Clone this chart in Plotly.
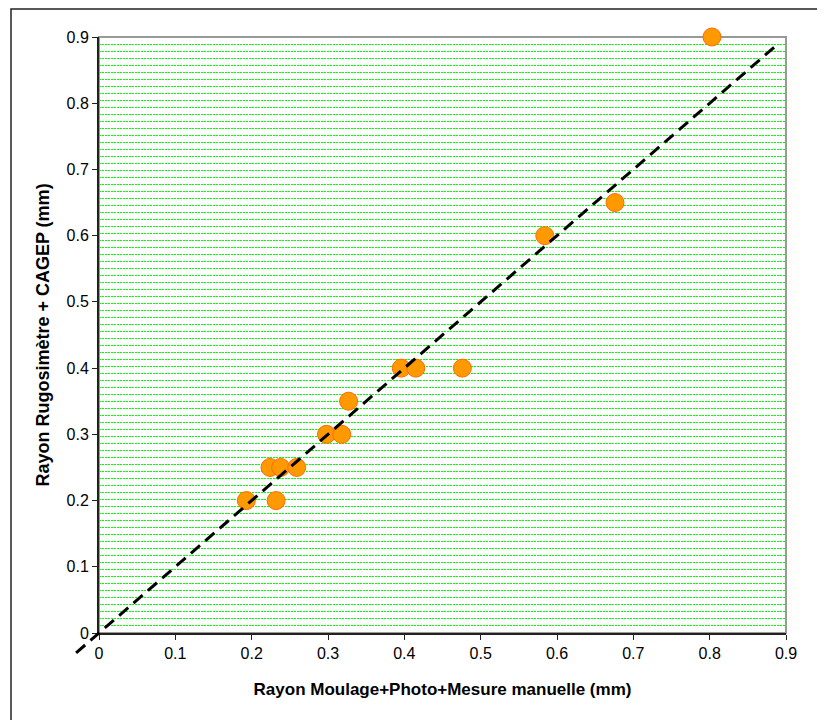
import plotly.graph_objects as go

# Data
x_moulage = [0.193, 0.232, 0.224, 0.238, 0.259, 0.298, 0.318, 0.327,
             0.396, 0.415, 0.476, 0.584, 0.676, 0.803]
y_rugosi = [0.20, 0.20, 0.25, 0.25, 0.25, 0.30, 0.30, 0.35,
            0.40, 0.40, 0.40, 0.60, 0.65, 0.90]
line_x = [-0.03, 0.89]
line_y = [-0.03, 0.89]
tick_vals = [0, 0.1, 0.2, 0.3, 0.4, 0.5, 0.6, 0.7, 0.8, 0.9]
tick_text = ["0", "0.1", "0.2", "0.3", "0.4", "0.5", "0.6", "0.7", "0.8", "0.9"]

W, H = 825, 720
ml, mt = 67, 29
pw, ph = 711, 621
mr = W - ml - pw
mb = H - mt - ph
pad_x = 24                # px left of main plot (for trend line overhang)
pad_y = 25                # px below main plot
xdom0 = pad_x / pw
ydom0 = pad_y / ph
xmax, ymax = 0.9, 0.9
x2min = -pad_x * xmax / (pw - pad_x)
y2min = -pad_y * ymax / (ph - pad_y)

font = "Liberation Sans, Arial, sans-serif"

fig = go.Figure()
fig.add_trace(go.Scatter(
    x=x_moulage, y=y_rugosi, mode="markers",
    marker=dict(size=18, color="#FF9900", line=dict(color="#FF6A00", width=1)),
    cliponaxis=False, showlegend=False, xaxis="x", yaxis="y"))
fig.add_trace(go.Scatter(
    x=line_x, y=line_y, mode="lines",
    line=dict(color="black", width=3, dash="12px,7px"),
    showlegend=False, xaxis="x2", yaxis="y2"))

fig.update_layout(
    width=W, height=H,
    margin=dict(l=ml, r=mr, t=mt, b=mb),
    paper_bgcolor="white", plot_bgcolor="rgba(0,0,0,0)",
    font=dict(family=font, color="black", size=16),
    xaxis=dict(
        domain=[xdom0, 1], range=[0, xmax], tickvals=tick_vals, ticktext=tick_text,
        showgrid=False, zeroline=False, showline=True, linecolor="#222", linewidth=2,
        ticks="outside", ticklen=5, tickcolor="#222", tickwidth=1,
        tickfont=dict(size=16), anchor="y", automargin=False,
        title=dict(text="<b>Rayon Moulage+Photo+Mesure manuelle (mm)</b>",
                   font=dict(size=17), standoff=22)),
    yaxis=dict(
        domain=[ydom0, 1], range=[0, ymax], tickvals=tick_vals, ticktext=tick_text,
        showgrid=False, zeroline=False, showline=True, linecolor="#222", linewidth=2,
        ticks="outside", ticklen=5, tickcolor="#222", tickwidth=1,
        tickfont=dict(size=16), anchor="x", automargin=False,
        minor=dict(dtick=0.9 / 85, tick0=0, showgrid=True, gridcolor="#00FF00",
                   griddash="2px,1px", gridwidth=1, ticks=""),
        title=dict(text="<b>Rayon Rugosimètre + CAGEP (mm)</b>",
                   font=dict(size=18), standoff=12)),
    xaxis2=dict(domain=[0, 1], range=[x2min, xmax], visible=False, anchor="y2"),
    yaxis2=dict(domain=[0, 1], range=[y2min, ymax], visible=False, anchor="x2"),
    shapes=[
        dict(type="rect", xref="x domain", yref="y domain", x0=0, x1=1, y0=0, y1=1,
             line=dict(color="#999999", width=2), layer="below"),
        dict(type="rect", xref="paper", yref="paper",
             x0=(3 - ml) / pw, x1=1 + 80 / pw, y0=-(mb + 20) / ph, y1=1 + (mt - 1) / ph,
             line=dict(color="#222", width=1.5), layer="below"),
    ],
)

fig.write_html("out.html")
